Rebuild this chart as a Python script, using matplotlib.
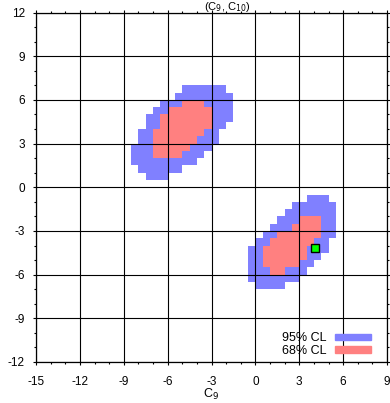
import numpy as np
import matplotlib.pyplot as plt
from matplotlib.colors import ListedColormap
from matplotlib.patches import Patch
from matplotlib.ticker import MultipleLocator

plt.rcParams['font.family'] = ['Liberation Sans', 'DejaVu Sans']
plt.rcParams['axes.unicode_minus'] = False

# scan cells are 0.5 x 0.5; each row: (upper C10 edge, left C9 edge, right C9 edge)
cl95_rows = [
    (7.0, -5.0, -2.0), (6.5, -5.5, -1.5), (6.0, -6.5, -1.5), (5.5, -7.0, -1.5),
    (5.0, -7.5, -1.5), (4.5, -7.5, -2.0), (4.0, -8.0, -2.5), (3.5, -8.0, -2.5),
    (3.0, -8.5, -3.0), (2.5, -8.5, -3.5), (2.0, -8.5, -4.0), (1.5, -8.0, -5.0),
    (1.0, -7.5, -6.0),
    (-0.5, 3.5, 5.0), (-1.0, 2.5, 5.5), (-1.5, 2.0, 5.5), (-2.0, 1.5, 5.5),
    (-2.5, 1.0, 5.5), (-3.0, 0.5, 5.5), (-3.5, 0.0, 5.0), (-4.0, -0.5, 5.0),
    (-4.5, -0.5, 4.5), (-5.0, -0.5, 4.0), (-5.5, -0.5, 3.5), (-6.0, -0.5, 3.0),
    (-6.5, 0.0, 2.0),
]
cl68_rows = [
    (6.0, -5.0, -3.5), (5.5, -6.0, -3.0), (5.0, -6.5, -3.0), (4.5, -6.5, -3.0),
    (4.0, -7.0, -3.5), (3.5, -7.0, -4.0), (3.0, -7.0, -4.5), (2.5, -7.0, -5.0),
    (-2.0, 3.0, 4.5), (-2.5, 2.5, 4.5), (-3.0, 1.5, 4.5), (-3.5, 1.0, 4.0),
    (-4.0, 0.5, 3.5), (-4.5, 0.5, 3.5), (-5.0, 0.5, 3.0), (-5.5, 1.0, 2.0),
]
best_fit = (4.1, -4.2)

cell = 0.5
x_edges = np.arange(-15, 9 + cell, cell)
y_edges = np.arange(-12, 12 + cell, cell)
level = np.zeros((len(y_edges) - 1, len(x_edges) - 1))


def fill_rows(rows, value):
    for y_top, x0, x1 in rows:
        iy = int(round((y_top - cell - y_edges[0]) / cell))
        i0 = int(round((x0 - x_edges[0]) / cell))
        i1 = int(round((x1 - x_edges[0]) / cell))
        level[iy, i0:i1] = value


fill_rows(cl95_rows, 1)
fill_rows(cl68_rows, 2)

blue = '#8080ff'
red = '#ff8080'

fig = plt.figure(figsize=(3.9, 4.03), dpi=100)
ax = fig.add_axes([36 / 390, 1 - 362 / 403, 351 / 390, 349.5 / 403])

ax.pcolormesh(x_edges, y_edges, np.ma.masked_equal(level, 0),
              cmap=ListedColormap([blue, red]), vmin=0.5, vmax=2.5)
ax.plot(*best_fit, 's', color='#00ff00', mec='black', mew=1.0, ms=5.5, zorder=5)

ax.set_xlim(-15, 9)
ax.set_ylim(-12, 12)
ax.xaxis.set_major_locator(MultipleLocator(3))
ax.yaxis.set_major_locator(MultipleLocator(3))
ax.xaxis.set_minor_locator(MultipleLocator(1))
ax.yaxis.set_minor_locator(MultipleLocator(1))
ax.tick_params(which='both', direction='out', top=True, right=True,
               width=0.8, labelsize=8.5)
ax.tick_params(which='major', length=2.5)
ax.tick_params(which='minor', length=1.6)
ax.tick_params(axis='x', pad=7.5)
ax.tick_params(axis='y', pad=5.5)
for s in ax.spines.values():
    s.set_linewidth(0.9)

ax.set_axisbelow(False)
ax.grid(True, which='major', color='black', lw=0.8)

handles = [Patch(color=blue, label='95% CL'), Patch(color=red, label='68% CL')]
ax.legend(handles=handles, loc='lower right', bbox_to_anchor=(0.954, 0.014),
          frameon=False, markerfirst=False, fontsize=9, handlelength=2.9,
          handleheight=0.45, handletextpad=0.65, labelspacing=0.05,
          borderpad=0, borderaxespad=0)

# title and axis label sit in the narrow margins
fig.text(227 / 390, 1 - 0.5 / 403, '(C$_9$, C$_{10}$)', ha='center', va='top', fontsize=8)
fig.text(211 / 390, 1 / 403, 'C$_9$', ha='center', va='bottom', fontsize=9)

fig.savefig('out.png', dpi=100)
